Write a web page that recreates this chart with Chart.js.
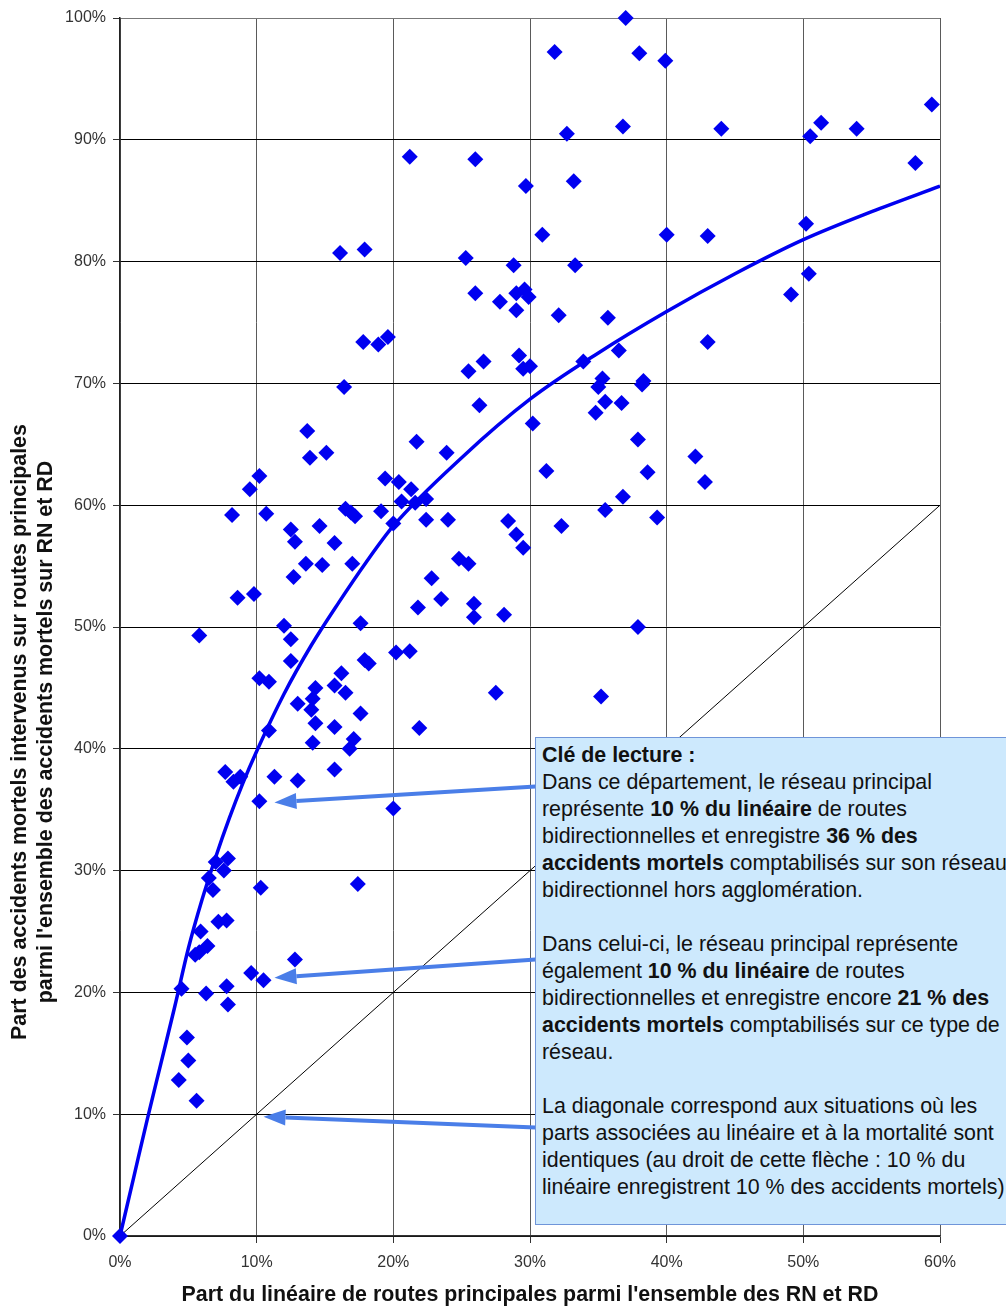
<!DOCTYPE html>
<html lang="fr">
<head>
<meta charset="utf-8">
<script src="https://cdn.jsdelivr.net/npm/chart.js@4.4.0/dist/chart.umd.min.js"></script>
<style>
  html, body { margin: 0; padding: 0; background: #fff; overflow: hidden; }
  #wrap { position: relative; width: 1006px; height: 1307px; overflow: hidden; }
  #chart { position: absolute; left: 0; top: 0; }
  #note {
    position: absolute; left: 535px; top: 737px; width: 520px; height: 488px;
    background: #cde9fd; border: 1px solid #6f95d9; box-sizing: border-box;
    padding: 4px 0 0 6px;
    font-family: Arial, "Liberation Sans", sans-serif; font-size: 21.4px; line-height: 27px;
    color: #111; white-space: nowrap;
  }
</style>
</head>
<body>
<div id="wrap">
  <canvas id="chart" width="1006" height="1307"></canvas>
  <div id="note">
    <b>Clé de lecture :</b><br>
    Dans ce département, le réseau principal<br>
    représente <b>10 % du linéaire</b> de routes<br>
    bidirectionnelles et enregistre <b>36 % des</b><br>
    <b>accidents mortels</b> comptabilisés sur son réseau<br>
    bidirectionnel hors agglomération.<br>
    <br>
    Dans celui-ci, le réseau principal représente<br>
    également <b>10 % du linéaire</b> de routes<br>
    bidirectionnelles et enregistre encore <b>21 % des</b><br>
    <b>accidents mortels</b> comptabilisés sur ce type de<br>
    réseau.<br>
    <br>
    La diagonale correspond aux situations où les<br>
    parts associées au linéaire et à la mortalité sont<br>
    identiques (au droit de cette flèche : 10 % du<br>
    linéaire enregistrent 10 % des accidents mortels)
  </div>
</div>
<script>
// part du linéaire de routes principales (%) / part des accidents mortels (%)
const lineShare = [
  37.0, 31.8, 38.0, 39.9, 36.8, 32.7, 44.0, 59.4, 51.3, 50.5,
  53.9, 58.2, 21.2, 26.0, 29.7, 33.2, 30.9, 40.0, 43.0, 50.2,
  16.1, 17.9, 25.3, 28.8, 33.3, 50.4, 49.1, 26.0, 27.8, 29.0,
  29.6, 29.9, 29.0, 32.1, 35.7, 17.8, 18.9, 19.6, 43.0, 36.5,
  33.9, 29.2, 29.5, 30.0, 25.5, 26.6, 16.4, 35.3, 35.0, 38.3,
  38.2, 26.3, 35.5, 36.7, 34.8, 30.2, 13.7, 21.7, 37.9, 13.9,
  15.1, 23.9, 42.1, 31.2, 38.6, 42.8, 10.2, 9.5, 19.4, 20.4,
  21.3, 20.6, 21.6, 22.4, 36.8, 8.2, 10.7, 16.5, 16.9, 17.2,
  19.1, 35.5, 39.3, 20.0, 22.4, 24.0, 28.4, 12.5, 14.6, 32.3,
  29.0, 12.8, 15.7, 29.5, 24.8, 25.5, 13.6, 14.8, 17.0, 12.7,
  22.8, 8.6, 9.8, 23.5, 21.8, 25.9, 25.9, 28.1, 12.0, 17.6,
  37.9, 5.8, 12.5, 20.2, 21.2, 12.5, 17.9, 18.2, 16.2, 10.2,
  10.9, 15.7, 14.3, 16.5, 14.1, 27.5, 35.2, 13.0, 14.0, 17.6,
  14.3, 15.7, 21.9, 10.9, 17.1, 16.8, 14.1, 15.7, 7.7, 8.3,
  8.8, 11.3, 13.0, 10.2, 20.0, 7.0, 7.9, 7.6, 6.5, 6.8,
  10.3, 17.4, 7.2, 7.8, 5.9, 5.5, 5.8, 6.4, 12.8, 9.6,
  10.5, 4.5, 6.3, 7.8, 7.9, 4.9, 5.0, 4.3, 5.6, 0
];
const deathShare = [
  100.0, 97.2, 97.1, 96.5, 91.1, 90.5, 90.9, 92.9, 91.4, 90.3,
  90.9, 88.1, 88.6, 88.4, 86.2, 86.6, 82.2, 82.2, 82.1, 83.1,
  80.7, 81.0, 80.3, 79.7, 79.7, 79.0, 77.3, 77.4, 76.7, 77.4,
  77.7, 77.1, 76.0, 75.6, 75.4, 73.4, 73.2, 73.8, 73.4, 72.7,
  71.8, 72.3, 71.2, 71.4, 71.0, 71.8, 69.7, 70.4, 69.7, 70.2,
  69.9, 68.2, 68.5, 68.4, 67.6, 66.7, 66.1, 65.2, 65.4, 63.9,
  64.3, 64.3, 64.0, 62.8, 62.7, 61.9, 62.4, 61.3, 62.2, 61.9,
  61.3, 60.3, 60.2, 60.5, 60.7, 59.2, 59.3, 59.7, 59.4, 59.1,
  59.5, 59.6, 59.0, 58.5, 58.8, 58.8, 58.7, 58.0, 58.3, 58.3,
  57.6, 57.0, 56.9, 56.5, 55.6, 55.2, 55.2, 55.1, 55.2, 54.1,
  54.0, 52.4, 52.7, 52.3, 51.6, 51.9, 50.8, 51.0, 50.1, 50.3,
  50.0, 49.3, 49.0, 47.9, 48.0, 47.2, 47.3, 47.0, 46.2, 45.8,
  45.5, 45.2, 45.0, 44.6, 44.1, 44.6, 44.3, 43.7, 43.2, 42.9,
  42.1, 41.8, 41.7, 41.5, 40.8, 40.0, 40.5, 38.3, 38.1, 37.3,
  37.7, 37.7, 37.4, 35.7, 35.1, 30.7, 31.0, 30.0, 29.4, 28.4,
  28.6, 28.9, 25.8, 25.9, 25.0, 23.1, 23.3, 23.8, 22.7, 21.6,
  21.0, 20.3, 19.9, 20.5, 19.0, 16.3, 14.4, 12.8, 11.1, 0
];

// courbe de tendance
const trendX = [0, 1, 2, 3, 4, 5, 6, 7, 8, 9, 10, 12, 14, 16, 18, 20, 25, 30, 35, 40, 45, 50, 55, 60];
const trendY = [0, 4.8, 9.6, 14.2, 18.8, 23.6, 27.6, 31.1, 34.3, 37.2, 39.8, 44.5, 48.5, 52.0, 55.3, 58.3, 63.9, 68.7, 72.5, 75.9, 79.0, 81.8, 84.1, 86.2];

// diagonale
const diagX = [0, 60];
const diagY = [0, 60];

// flèches de la clé de lecture : [départ x, départ y, pointe x, pointe y]
const arrows = [
  [30.4, 36.9, 11.3, 35.6],
  [30.4, 22.7, 11.3, 21.2],
  [30.4, 8.9, 10.5, 9.8]
];

const xTicks = [0, 10, 20, 30, 40, 50, 60];
const yTicks = [0, 10, 20, 30, 40, 50, 60, 70, 80, 90, 100];

const BLUE = '#0000f0';
const FONT = 'Arial, "Liberation Sans", sans-serif';

const toPoints = (xs, ys) => xs.map((x, i) => ({ x, y: ys[i] }));

const extras = {
  id: 'extras',
  afterDatasetsDraw(chart) {
    const { ctx, scales: { x, y } } = chart;
    ctx.save();
    ctx.strokeStyle = '#4a7ee8';
    ctx.fillStyle = '#4a7ee8';
    ctx.lineWidth = 4;
    arrows.forEach(([x0, y0, x1, y1]) => {
      const ax = x.getPixelForValue(x0), ay = y.getPixelForValue(y0);
      const bx = x.getPixelForValue(x1), by = y.getPixelForValue(y1);
      const ang = Math.atan2(by - ay, bx - ax);
      const len = 22, half = 8;
      const cx = bx - Math.cos(ang) * len, cy = by - Math.sin(ang) * len;
      ctx.beginPath();
      ctx.moveTo(ax, ay);
      ctx.lineTo(cx, cy);
      ctx.stroke();
      ctx.beginPath();
      ctx.moveTo(bx, by);
      ctx.lineTo(cx - Math.sin(ang) * half, cy + Math.cos(ang) * half);
      ctx.lineTo(cx + Math.sin(ang) * half, cy - Math.cos(ang) * half);
      ctx.closePath();
      ctx.fill();
    });
    ctx.restore();
  },
  afterDraw(chart) {
    const { ctx, chartArea } = chart;
    ctx.save();
    ctx.fillStyle = '#111';
    ctx.font = 'bold 21.4px ' + FONT;
    ctx.textAlign = 'center';
    ctx.textBaseline = 'middle';
    ctx.fillText("Part du linéaire de routes principales parmi l'ensemble des RN et RD",
      (chartArea.left + chartArea.right) / 2, 1295);
    ctx.translate(0, 732);
    ctx.rotate(-Math.PI / 2);
    ctx.fillText('Part des accidents mortels intervenus sur routes principales', 0, 20);
    ctx.fillText("parmi l'ensemble des accidents mortels sur RN et RD", 0, 46);
    ctx.restore();
  }
};

new Chart(document.getElementById('chart'), {
  type: 'scatter',
  data: {
    datasets: [
      {
        data: toPoints(lineShare, deathShare),
        pointStyle: 'rectRot',
        pointRadius: 8,
        pointBackgroundColor: BLUE,
        pointBorderColor: BLUE,
        pointBorderWidth: 0,
        showLine: false,
        clip: false
      },
      {
        type: 'line',
        data: toPoints(trendX, trendY),
        borderColor: BLUE,
        borderWidth: 3.5,
        pointRadius: 0,
        cubicInterpolationMode: 'monotone',
        fill: false
      },
      {
        type: 'line',
        data: toPoints(diagX, diagY),
        borderColor: '#000',
        borderWidth: 1,
        pointRadius: 0,
        fill: false
      }
    ]
  },
  options: {
    responsive: false,
    animation: false,
    devicePixelRatio: 1,
    layout: { padding: { left: 0, top: 18, right: 66, bottom: 0 } },
    plugins: { legend: { display: false }, tooltip: { enabled: false } },
    scales: {
      x: {
        type: 'linear', min: 0, max: 60,
        afterFit: s => { s.height = 71; },
        afterBuildTicks: s => { s.ticks = xTicks.map(v => ({ value: v })); },
        ticks: { callback: v => v + '%', color: '#333', font: { family: FONT, size: 16 }, padding: 10, maxRotation: 0 },
        grid: { color: '#5a5a5a', lineWidth: 1, tickLength: 7, tickColor: '#333' },
        border: { color: '#333', width: 1.5 }
      },
      y: {
        type: 'linear', min: 0, max: 100,
        afterFit: s => { s.width = 120; },
        afterBuildTicks: s => { s.ticks = yTicks.map(v => ({ value: v })); },
        ticks: { callback: v => v + '%', color: '#333', font: { family: FONT, size: 16 }, padding: 7 },
        grid: { color: c => c.tick && c.tick.value === 100 ? '#777' : '#000', lineWidth: 1, tickLength: 7, tickColor: '#333' },
        border: { color: '#222', width: 1.5 }
      }
    }
  },
  plugins: [extras]
});
</script>
</body>
</html>
